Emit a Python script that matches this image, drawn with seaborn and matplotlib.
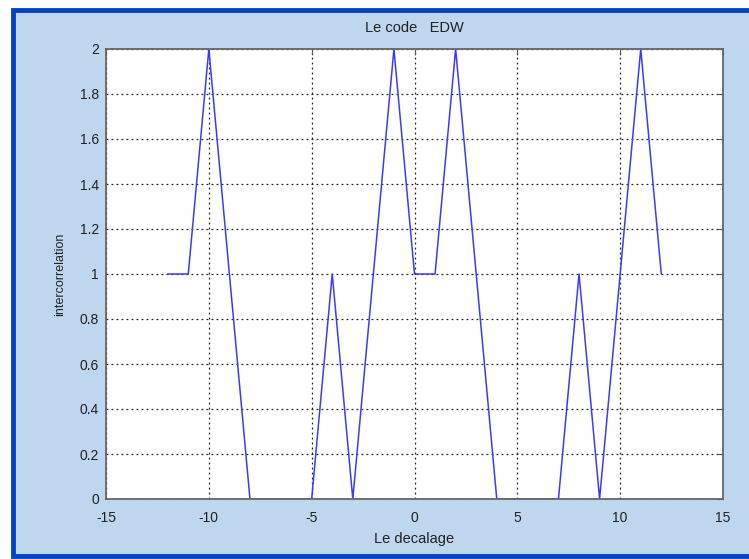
import matplotlib
matplotlib.use("Agg")
import matplotlib.pyplot as plt
from matplotlib.patches import Rectangle
from matplotlib.lines import Line2D
import seaborn as sns
import pandas as pd

# Cross-correlation of the EDW code versus shift
shifts = [-12, -11, -10, -9, -8, -7, -6, -5, -4, -3, -2, -1, 0,
          1, 2, 3, 4, 5, 6, 7, 8, 9, 10, 11, 12]
corr = [1, 1, 2, 1, 0, 0, 0, 0, 1, 0, 1, 2, 1,
        1, 2, 1, 0, 0, 0, 0, 1, 0, 1, 2, 1]
xticks = [-15, -10, -5, 0, 5, 10, 15]
yticks = [0, 0.2, 0.4, 0.6, 0.8, 1, 1.2, 1.4, 1.6, 1.8, 2]

df = pd.DataFrame({"shift": shifts, "corr": corr})

sns.set_style("white")
plt.rcParams["font.family"] = ["Liberation Sans", "DejaVu Sans"]

W, H = 749, 559
fig = plt.figure(figsize=(W / 100, H / 100), dpi=100, facecolor="#BED6EE")

# window frame: white margin outside, dark blue border on top, left and bottom
x0, y0, y1 = 12.5 / W, 3.0 / H, 1 - 9.5 / H
for rect in [(0, y1, 1.0, 1.0 - y1), (0, 0, x0, 1.0), (0, 0, 1.0, y0)]:
    fig.patches.append(Rectangle(rect[:2], rect[2], rect[3],
                                 transform=fig.transFigure, facecolor="white",
                                 edgecolor="none", zorder=-10))
fig.lines.append(Line2D([1.02, x0, x0, 1.02], [y1, y1, y0, y0],
                        transform=fig.transFigure, color="#0842C4",
                        linewidth=3.5, solid_joinstyle="miter", zorder=-9))

ax = fig.add_axes([106 / W, 1 - 499 / H, (723 - 106) / W, (499 - 49) / H])
ax.set_facecolor("white")

sns.lineplot(data=df, x="shift", y="corr", ax=ax, color="#3a3aff",
             linewidth=1.1, estimator=None, sort=False)

ax.set_xlim(-15, 15)
ax.set_ylim(0, 2)
ax.set_xticks(xticks)
ax.set_yticks(yticks)
ax.set_xticklabels([str(t) for t in xticks])
ax.set_yticklabels([("%g" % t) for t in yticks])

ax.grid(True, linestyle=(0, (1.5, 2.5)), color="#222222", linewidth=0.9)
ax.tick_params(direction="in", length=4, width=0.8, colors="#555555",
               labelcolor="#222222", labelsize=10, top=True, right=True)
ax.tick_params(axis="x", pad=9)
ax.tick_params(axis="y", pad=5)
for s in ax.spines.values():
    s.set_visible(True)
    s.set_color("#666666")
    s.set_linewidth(1.3)

ax.set_xlabel("Le decalage", fontsize=10.5, color="#222222", labelpad=5)
ax.set_ylabel("intercorrelation", fontsize=9, color="#222222", labelpad=10)
ax.set_title("Le code   EDW", fontsize=10.5, color="#222222", pad=12)

fig.savefig("out.png", dpi=100, facecolor=fig.get_facecolor())
